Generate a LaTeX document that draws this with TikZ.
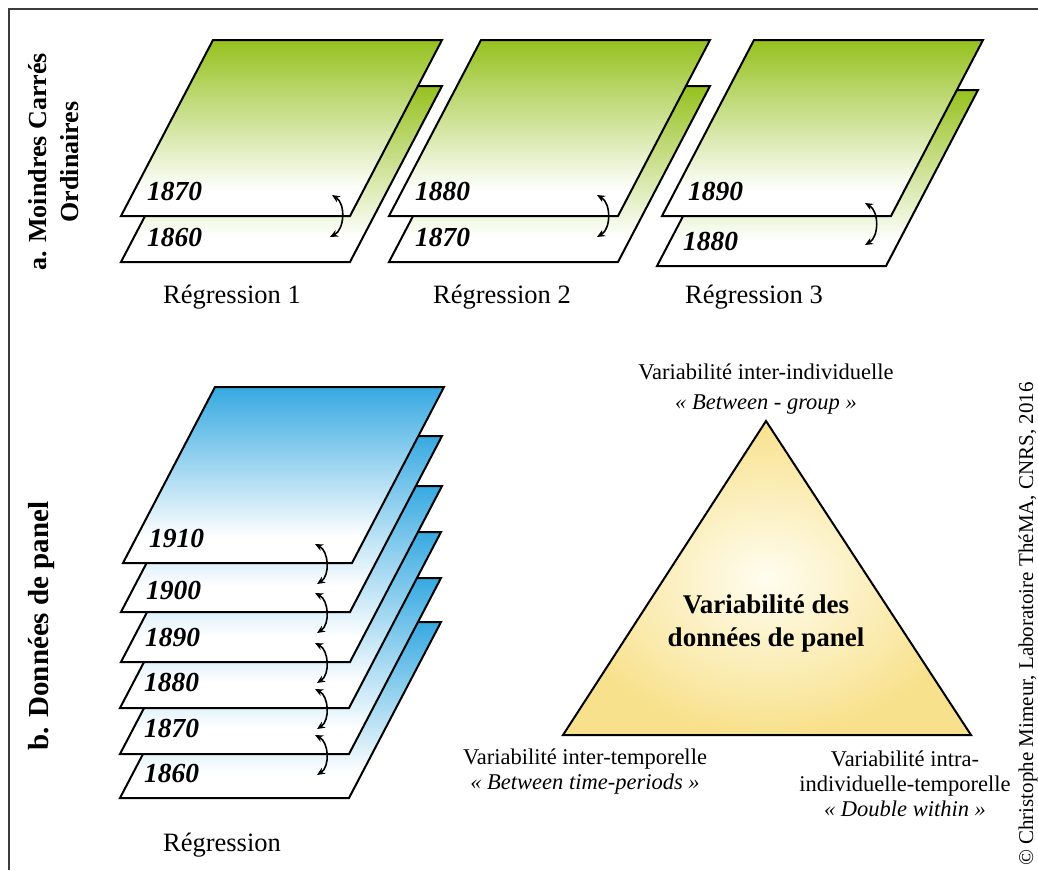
\documentclass[tikz,border=0pt]{standalone}
\usepackage{fontspec}
\setmainfont{Liberation Serif}
\usetikzlibrary{arrows.meta}
\definecolor{sheetgreen}{RGB}{150,193,31}
\definecolor{sheetblue}{RGB}{54,169,225}
\definecolor{triedge}{RGB}{248,225,140}
\definecolor{tricenter}{RGB}{255,253,240}
\definecolor{framegray}{RGB}{60,60,60}
\pgfdeclareverticalshading{greenfade}{100bp}{color(0bp)=(white); color(25bp)=(white); color(32bp)=(white); color(75bp)=(sheetgreen); color(100bp)=(sheetgreen)}
\pgfdeclareverticalshading{bluefade}{100bp}{color(0bp)=(white); color(25bp)=(white); color(32bp)=(white); color(75bp)=(sheetblue); color(100bp)=(sheetblue)}
\newcommand{\drawsheet}[3]{\path[sheetline, shading=#3] (#1,#2) -- ++(229,0) -- ++(92,-176) -- ++(-229,0) -- cycle;}
\tikzset{
  sheetline/.style={draw=black, line width=2pt, line join=miter},
  yearlabel/.style={anchor=west, font=\fontsize{27.5}{30}\selectfont\bfseries\itshape, inner sep=0pt},
  reglabel/.style={font=\fontsize{26.5}{30}\selectfont, inner sep=0pt},
  trilabel/.style={font=\fontsize{22.5}{25}\selectfont, align=center, inner sep=0pt},
  sidelabel/.style={rotate=90, align=center, font=\fontsize{26}{32}\selectfont\bfseries, inner sep=0pt},
  twoway/.style={{Stealth[length=8pt,width=7pt]}-{Stealth[length=8pt,width=7pt]}, line width=1.6pt, bend left=60}
}
\begin{document}
\begin{tikzpicture}[x=1pt,y=-1pt]
\useasboundingbox (0,0) rectangle (1038,870);
% frame
\draw[framegray, line width=1.5pt] (1038,9) -- (9,9) -- (9,870);
% side labels
\node[sidelabel] (labA) at (54,162) {a. Moindres Carrés\\Ordinaires};
\node[sidelabel, font=\fontsize{29}{32}\selectfont\bfseries] (labB) at (42,626) {b. Données de panel};
\node[rotate=90, font=\fontsize{21}{24}\selectfont, inner sep=0pt] (copyr) at (1028,624) {© Christophe Mimeur, Laboratoire ThéMA, CNRS, 2016};
% panel a, regression 1
\drawsheet{121}{262}{greenfade}
\drawsheet{121}{216}{greenfade}
\node[yearlabel] (r1b) at (147,237) {1860};
\node[yearlabel] (r1t) at (147,191) {1870};
% regression 2
\drawsheet{389}{262}{greenfade}
\drawsheet{389}{216}{greenfade}
\node[yearlabel] (r2b) at (415,237) {1870};
\node[yearlabel] (r2t) at (415,191) {1880};
% regression 3
\drawsheet{657}{266}{greenfade}
\drawsheet{662}{216}{greenfade}
\node[yearlabel] (r3b) at (683,241) {1880};
\node[yearlabel] (r3t) at (688,191) {1890};
\node[reglabel] (reg1) at (232,297) {Régression 1};
\node[reglabel] (reg2) at (502,297) {Régression 2};
\node[reglabel] (reg3) at (754,297) {Régression 3};
\coordinate (a1s) at (332,195); \coordinate (a1e) at (330,237);
\coordinate (a2s) at (597,195); \coordinate (a2e) at (597,237);
\coordinate (a3s) at (865,203); \coordinate (a3e) at (865,245);
\draw[twoway] (a1s) to (a1e);
\draw[twoway] (a2s) to (a2e);
\draw[twoway] (a3s) to (a3e);
% panel b stack
\drawsheet{120}{798}{bluefade}
\drawsheet{120}{754}{bluefade}
\drawsheet{120}{708}{bluefade}
\drawsheet{121}{662}{bluefade}
\drawsheet{121}{612}{bluefade}
\drawsheet{123}{563}{bluefade}
\node[yearlabel] (s1860) at (144,773) {1860};
\node[yearlabel] (s1870) at (144,728) {1870};
\node[yearlabel] (s1880) at (144,682) {1880};
\node[yearlabel] (s1890) at (145,637) {1890};
\node[yearlabel] (s1900) at (146,590) {1900};
\node[yearlabel] (s1910) at (149,538) {1910};
\foreach \b [count=\i] in {563,612,662,708,754}{
  \coordinate (s\i a) at (315,\b-19);
  \coordinate (s\i b) at (317,\b+21);
  \draw[twoway] (s\i a) to (s\i b);
}
\node[reglabel] (regb) at (222,845) {Régression};
% triangle
\coordinate (tA) at (766,421);
\coordinate (tB) at (971,735);
\coordinate (tC) at (563,735);
\path[draw=black, line width=2pt, line join=miter, shading=radial, inner color=tricenter, outer color=triedge] (tA) -- (tB) -- (tC) -- cycle;
\node[font=\fontsize{27}{33}\selectfont\bfseries, align=center, inner sep=0pt] (tcore) at (766,623) {Variabilité des\\données de panel};
\node[trilabel, font=\fontsize{22.5}{30}\selectfont] (ttop) at (766,389) {Variabilité inter-individuelle\\\textit{« Between - group »}};
\node[trilabel] (tleft) at (585,772) {Variabilité inter-temporelle\\\textit{« Between time-periods »}};
\node[trilabel] (tright) at (905,784) {Variabilité intra-\\individuelle-temporelle\\\textit{« Double within »}};
\end{tikzpicture}
\end{document}
